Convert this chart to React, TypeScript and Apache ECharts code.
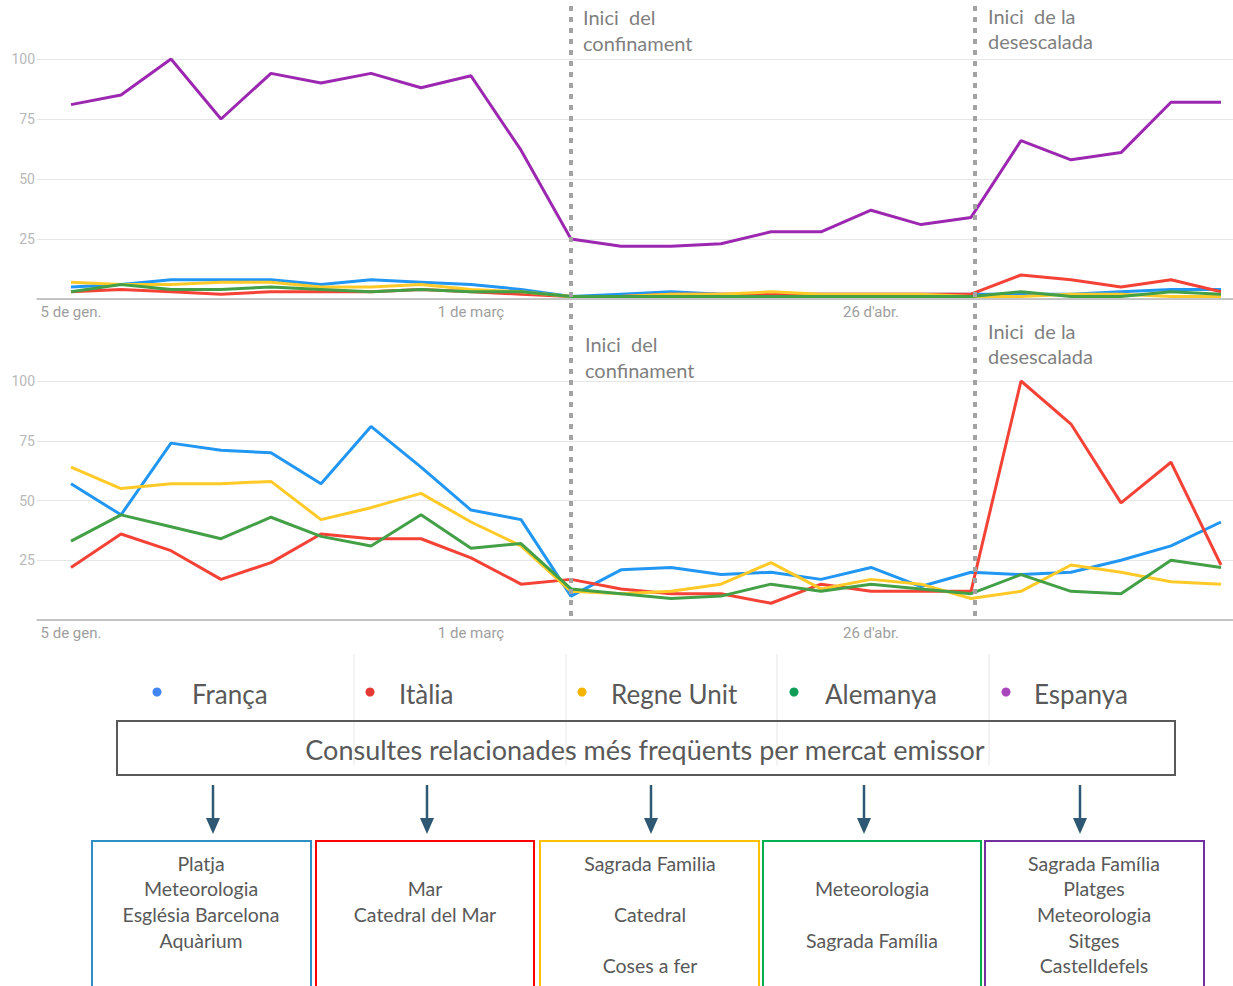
import React, { useEffect, useRef } from 'react';
import * as echarts from 'echarts';

// Weekly points (Google Trends style), Jan 5 – Jun 14 2020
const weekLabels = [
  '5 de gen.', '12 de gen.', '19 de gen.', '26 de gen.', '2 de febr.', '9 de febr.', '16 de febr.', '23 de febr.',
  '1 de març', '8 de març', '15 de març', '22 de març', '29 de març', "5 d'abr.", "12 d'abr.", "19 d'abr.",
  "26 d'abr.", '3 de maig', '10 de maig', '17 de maig', '24 de maig', '31 de maig', '7 de juny', '14 de juny',
];
const xLabelWeeks = [0, 8, 16];
const confinementWeek = 10;
const deescalationWeek = 18.08;

const seriesNames = ['França', 'Itàlia', 'Regne Unit', 'Alemanya', 'Espanya'];
const lineColors = ['#2196f3', '#f44336', '#ffca28', '#43a047', '#9c27b0'];
const dotColors = ['#4285f4', '#e53935', '#f4b400', '#0f9d58', '#ab47bc'];

// Top chart (with Espanya)
const topFranca = [5, 6, 8, 8, 8, 6, 8, 7, 6, 4, 1, 2, 3, 2, 2, 2, 2, 2, 2, 2, 2, 3, 4, 4];
const topItalia = [3, 4, 3, 2, 3, 3, 3, 4, 3, 2, 1, 1, 2, 2, 2, 2, 2, 2, 2, 10, 8, 5, 8, 3];
const topRegneUnit = [7, 6, 6, 7, 7, 5, 5, 6, 4, 3, 1, 1, 2, 2, 3, 2, 2, 2, 1, 1, 2, 2, 1, 1];
const topAlemanya = [3, 6, 4, 4, 5, 4, 3, 4, 3, 3, 1, 1, 1, 1, 1, 1, 1, 1, 1, 3, 1, 1, 3, 2];
const topEspanya = [81, 85, 100, 75, 94, 90, 94, 88, 93, 62, 25, 22, 22, 23, 28, 28, 37, 31, 34, 66, 58, 61, 82, 82];

// Bottom chart (without Espanya)
const botFranca = [57, 44, 74, 71, 70, 57, 81, 64, 46, 42, 10, 21, 22, 19, 20, 17, 22, 14, 20, 19, 20, 25, 31, 41];
const botItalia = [22, 36, 29, 17, 24, 36, 34, 34, 26, 15, 17, 13, 11, 11, 7, 15, 12, 12, 12, 100, 82, 49, 66, 23];
const botRegneUnit = [64, 55, 57, 57, 58, 42, 47, 53, 41, 31, 12, 11, 12, 15, 24, 13, 17, 15, 9, 12, 23, 20, 16, 15];
const botAlemanya = [33, 44, 39, 34, 43, 35, 31, 44, 30, 32, 13, 11, 9, 10, 15, 12, 15, 13, 11, 19, 12, 11, 25, 22];

const yTickInterval = 25;

const summaryTitle = 'Consultes relacionades més freqüents per mercat emissor';
const boxBorderColors = ['#2e8fc4', '#ff0000', '#ffc000', '#00b050', '#7030a0'];
const queryLists: string[][] = [
  ['Platja', 'Meteorologia', 'Església Barcelona', 'Aquàrium'],
  ['', 'Mar', 'Catedral del Mar'],
  ['Sagrada Familia', '', 'Catedral', '', 'Coses a fer'],
  ['', 'Meteorologia', '', 'Sagrada Família'],
  ['Sagrada Família', 'Platges', 'Meteorologia', 'Sitges', 'Castelldefels'],
];

const TXT = '#595959';
const FONT = 'Lato, "Open Sans", sans-serif';

export default function App() {
  const ref = useRef<HTMLDivElement>(null);

  useEffect(() => {
    document.body.style.margin = '0';
    const chart = echarts.init(ref.current!, null, { renderer: 'svg' });

    const toPairs = (arr: number[]) => arr.map((v, i) => [i, v]);
    const mkX = (gridIndex: number) => ({
      type: 'value' as const,
      gridIndex,
      min: -0.68,
      max: 23.24,
      splitLine: { show: false },
      axisTick: { show: false },
      axisLine: { show: true, lineStyle: { color: '#b5b5b5', width: 1.5 } },
      axisLabel: {
        customValues: xLabelWeeks,
        formatter: (v: number) => weekLabels[Math.round(v)] ?? '',
        color: '#9e9e9e',
        fontFamily: 'Roboto',
        fontSize: 15,
        margin: 5,
      },
    });
    const mkY = (gridIndex: number) => ({
      type: 'value' as const,
      gridIndex,
      min: 0,
      max: 100,
      interval: yTickInterval,
      axisLine: { show: false },
      axisTick: { show: false },
      splitLine: { lineStyle: { color: '#e6e6e6', width: 1 } },
      axisLabel: {
        formatter: (v: number) => (v === 0 ? '' : String(v)),
        color: '#b8b8b8',
        fontFamily: 'Roboto',
        fontSize: 14,
        margin: 2,
      },
    });
    const mkLine = (name: string, color: string, data: number[], idx: number) => ({
      name,
      type: 'line' as const,
      xAxisIndex: idx,
      yAxisIndex: idx,
      data: toPairs(data),
      showSymbol: false,
      symbol: 'none',
      lineStyle: { color, width: 3 },
      itemStyle: { color },
      z: 3,
    });

    const topData = [topFranca, topItalia, topRegneUnit, topAlemanya, topEspanya];
    const botData = [botFranca, botItalia, botRegneUnit, botAlemanya];

    chart.setOption({
      animation: false,
      grid: [
        { left: 37, top: 59, width: 1196, height: 240 },
        { left: 37, top: 381, width: 1196, height: 239 },
      ],
      xAxis: [mkX(0), mkX(1)],
      yAxis: [mkY(0), mkY(1)],
      series: [
        ...topData.map((d, i) => mkLine(seriesNames[i], lineColors[i], d, 0)),
        ...botData.map((d, i) => mkLine(seriesNames[i], lineColors[i], d, 1)),
      ],
    });

    const xConf = chart.convertToPixel({ xAxisIndex: 0 }, confinementWeek) as number;
    const xDes = chart.convertToPixel({ xAxisIndex: 0 }, deescalationWeek) as number;

    const text = (t: string, x: number, y: number, size: number, align: string, color = TXT) => ({
      type: 'text',
      x,
      y,
      z: 120,
      style: {
        text: t,
        fill: color,
        fontSize: size,
        fontFamily: FONT,
        align,
        verticalAlign: 'middle',
        textAlign: align,
        textVerticalAlign: 'middle',
      },
    });

    const graphics: any[] = [];
    // vertical dashed markers
    [xConf, xDes].forEach((x) => {
      graphics.push({
        type: 'line',
        z: 100,
        shape: { x1: x, y1: 6, x2: x, y2: 621 },
        style: { stroke: '#a3a3a3', lineWidth: 4, lineDash: [5, 6] },
      });
    });
    // annotations
    const annCol = '#7f7f7f';
    const annSize = 20;
    graphics.push(text('Inici  del', xConf + 12, 17, annSize, 'left', annCol));
    graphics.push(text('confinament', xConf + 12, 43, annSize, 'left', annCol));
    graphics.push(text('Inici  de la', xDes + 13, 16, annSize, 'left', annCol));
    graphics.push(text('desescalada', xDes + 13, 41, annSize, 'left', annCol));
    graphics.push({ type: 'rect', z: 110, shape: { x: xConf + 8, y: 332, width: 124, height: 48 }, style: { fill: '#fff' } });
    graphics.push(text('Inici  del', xConf + 14, 344, annSize, 'left', annCol));
    graphics.push(text('confinament', xConf + 14, 370, annSize, 'left', annCol));
    graphics.push(text('Inici  de la', xDes + 13, 331, annSize, 'left', annCol));
    graphics.push(text('desescalada', xDes + 13, 356, annSize, 'left', annCol));

    // legend separators
    [354, 566, 777, 989].forEach((x) => {
      graphics.push({
        type: 'line',
        z: 90,
        shape: { x1: x, y1: 654, x2: x, y2: 765 },
        style: { stroke: '#e6e6e6', lineWidth: 1 },
      });
    });
    // legend
    const legendDotX = [157, 370, 582, 794, 1006];
    const legendTextX = [192, 399, 611, 825, 1034];
    seriesNames.forEach((n, i) => {
      graphics.push({ type: 'circle', z: 100, shape: { cx: legendDotX[i], cy: 692, r: 4.5 }, style: { fill: dotColors[i] } });
      graphics.push(text(n, legendTextX[i], 694, 26, 'left'));
    });

    // summary box
    graphics.push({
      type: 'rect',
      z: 100,
      shape: { x: 117, y: 721, width: 1058, height: 54 },
      style: { fill: 'none', stroke: '#595959', lineWidth: 2 },
    });
    graphics.push(text(summaryTitle, 645, 749, 27, 'center'));

    // arrows
    const arrowX = [213, 427, 651, 864, 1080];
    arrowX.forEach((x) => {
      graphics.push({
        type: 'line',
        z: 100,
        shape: { x1: x, y1: 785, x2: x, y2: 820 },
        style: { stroke: '#2f5873', lineWidth: 2.5 },
      });
      graphics.push({
        type: 'polygon',
        z: 100,
        shape: { points: [[x - 7, 818], [x + 7, 818], [x, 834]] },
        style: { fill: '#2f5873' },
      });
    });

    // query boxes
    const boxX = [92, 316, 540, 763, 985];
    const boxW = [219, 218, 219, 218, 219];
    const boxCenters = [201, 425, 650, 872, 1094];
    boxX.forEach((x, i) => {
      graphics.push({
        type: 'rect',
        z: 100,
        shape: { x, y: 841, width: boxW[i], height: 170 },
        style: { fill: 'none', stroke: boxBorderColors[i], lineWidth: 2 },
      });
      queryLists[i].forEach((q, j) => {
        if (q) graphics.push(text(q, boxCenters[i], 863 + j * 25.7, 19.5, 'center'));
      });
    });

    chart.setOption({ graphic: graphics });

    return () => chart.dispose();
  }, []);

  return <div ref={ref} style={{ width: 1233, height: 986 }} />;
}
